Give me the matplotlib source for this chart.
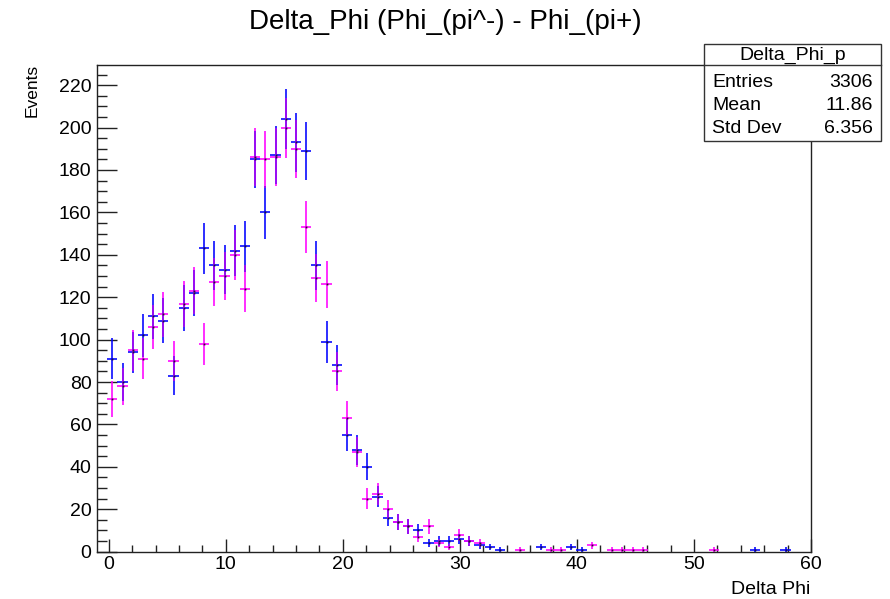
import numpy as np
import matplotlib
matplotlib.use("Agg")
import matplotlib.pyplot as plt
from matplotlib.ticker import MultipleLocator
from matplotlib.patches import Rectangle
from matplotlib.lines import Line2D

plt.rcParams["font.family"] = ["Liberation Sans", "DejaVu Sans"]

# histogram binning
n_bins = 70
x_lo, x_hi = -1.0, 60.0

# bin contents of the two Delta_Phi histograms
counts_blue = [
    0, 91, 80, 94, 102, 111, 109, 83, 115, 122,
    143, 135, 133, 142, 144, 185, 160, 187, 204, 193,
    189, 135, 99, 88, 55, 48, 40, 26, 16, 14,
    12, 10, 4, 5, 5, 6, 5, 3, 2, 1,
    0, 0, 0, 2, 0, 0, 2, 1, 0, 0,
    0, 0, 0, 0, 0, 0, 0, 0, 0, 0,
    0, 0, 0, 0, 1, 0, 0, 1, 0, 0,
]
counts_magenta = [
    0, 72, 78, 95, 91, 106, 112, 90, 117, 123,
    98, 127, 130, 140, 124, 186, 185, 186, 200, 190,
    153, 129, 126, 85, 63, 47, 25, 27, 20, 14,
    12, 7, 12, 4, 2, 8, 5, 4, 0, 0,
    0, 1, 0, 0, 1, 1, 0, 0, 3, 0,
    1, 1, 1, 1, 0, 0, 0, 0, 0, 0,
    1, 0, 0, 0, 0, 0, 0, 0, 0, 0,
]

hist_title = "Delta_Phi (Phi_(pi^-) - Phi_(pi+)"
x_title = "Delta Phi"
y_title = "Events"
stats_name = "Delta_Phi_p"
stats_rows = [("Entries", "3306"), ("Mean", "11.86"), ("Std Dev", "6.356")]

W, H = 890, 599
fig = plt.figure(figsize=(W / 100, H / 100), dpi=100)
ax = fig.add_axes([97 / W, (H - 551.7) / H, (811 - 97) / W, (551.7 - 65) / H])

edges = np.linspace(x_lo, x_hi, n_bins + 1)
centers = 0.5 * (edges[:-1] + edges[1:])
half_w = 0.5 * (edges[1] - edges[0])

blue = np.array(counts_blue, dtype=float)
mag = np.array(counts_magenta, dtype=float)
err_b = np.sqrt(blue)
err_m = np.sqrt(mag)

lw = 1.15


def draw_hist(vals, errs, color):
    m = vals > 0
    ax.errorbar(centers[m], vals[m], yerr=errs[m], xerr=half_w, fmt="none",
                ecolor=color, elinewidth=lw, capsize=0, zorder=3)


draw_hist(blue, err_b, "#0000ff")
draw_hist(mag, err_m, "#ff00ff")

# where both error bars cover the same range the colours mix
both = (blue > 0) & (mag > 0)
lo = np.maximum(blue - err_b, mag - err_m)
hi = np.minimum(blue + err_b, mag + err_m)
ov = both & (hi > lo)
ax.vlines(centers[ov], lo[ov], hi[ov], colors="#8a10f0", linewidth=lw, zorder=4)

# bin markers
mb = blue > 0
mm = mag > 0
ax.plot(centers[mb], blue[mb], ls="none", marker="s", ms=1.3, mec="none",
        mfc="#1a1040", zorder=5)
ax.plot(centers[mm], mag[mm], ls="none", marker="s", ms=1.3, mec="none",
        mfc="#301030", zorder=5)

ax.set_xlim(x_lo, x_hi)
ax.set_ylim(0, 229.5)
ax.xaxis.set_major_locator(MultipleLocator(10))
ax.xaxis.set_minor_locator(MultipleLocator(2))
ax.yaxis.set_major_locator(MultipleLocator(20))
ax.yaxis.set_minor_locator(MultipleLocator(5))
ax.tick_params(axis="both", which="both", direction="in", top=False, right=False,
               colors="#222222", labelcolor="black", labelsize=14, width=1.0)
ax.tick_params(axis="x", which="major", length=9.5, pad=3)
ax.tick_params(axis="x", which="minor", length=4.8)
ax.tick_params(axis="y", which="major", length=14.5, pad=4)
ax.tick_params(axis="y", which="minor", length=7.2)
for s in ax.spines.values():
    s.set_color("#222222")
    s.set_linewidth(1.0)

fig.text(0.5, 1 - 22 / H, hist_title, ha="center", va="center", fontsize=20)
fig.text(810 / W, 1 - 590 / H, x_title, ha="right", va="center", fontsize=14)
fig.text(32 / W, 1 - 64 / H, y_title, ha="center", va="top", rotation=90,
         fontsize=12.5)

# statistics box
bx0, bx1, by0, by1, bh = 704, 881, 44, 140.7, 65
fig.patches.append(Rectangle((bx0 / W, 1 - by1 / H), (bx1 - bx0) / W,
                             (by1 - by0) / H, transform=fig.transFigure,
                             facecolor="white", edgecolor="#333333",
                             linewidth=1.0, zorder=10))
fig.lines.append(Line2D([bx0 / W, bx1 / W], [1 - bh / H, 1 - bh / H],
                        transform=fig.transFigure, color="#333333",
                        linewidth=1.0, zorder=11))
fig.text((bx0 + bx1) / 2 / W, 1 - 55 / H, stats_name, ha="center",
         va="center", fontsize=14, zorder=12)
for j, (lab, val) in enumerate(stats_rows):
    yy = 1 - (82.5 + 23 * j) / H
    fig.text(712 / W, yy, lab, ha="left", va="center", fontsize=14, zorder=12)
    fig.text(873 / W, yy, val, ha="right", va="center", fontsize=14, zorder=12)

fig.savefig("out.png", dpi=100)
